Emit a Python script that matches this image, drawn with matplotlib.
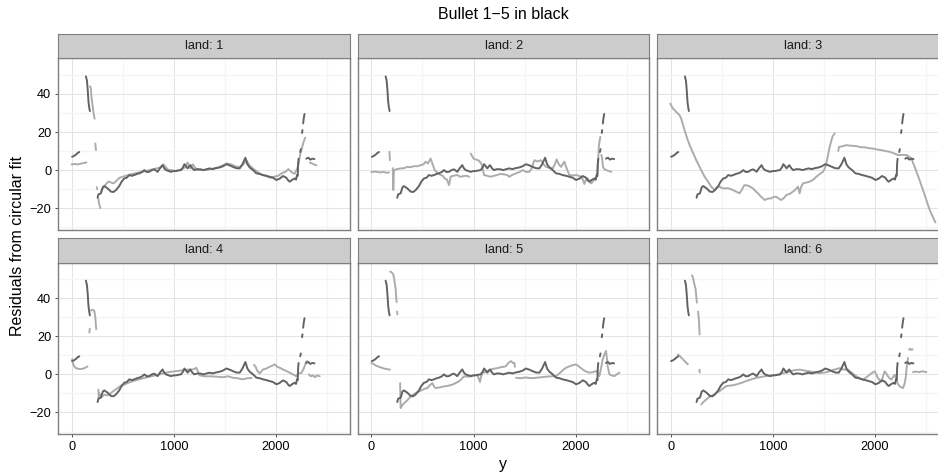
import numpy as np
import matplotlib
matplotlib.use('Agg')
from matplotlib import pyplot as plt

plt.rcParams['font.family'] = ['Liberation Sans', 'DejaVu Sans']

# bullet 1-5 (same in every facet), None = gap in the profile
bullet_pts = [(5, 7), (20, 7.3), (40, 8), (60, 9), (75, 9.5), None,
              (140, 49.2), (150, 47), (158, 42), (165, 36), (172, 33), (179, 31), None,
              (254, -14.5), (262, -12.8), (287, -12.2), (305, -9), (320, -8.4), (352, -9.6),
              (385, -11.3), (410, -11.5), (434, -10.5), (466, -8.4), (490, -6), (515, -4.4),
              (540, -4), (564, -2.6), (590, -3), (613, -2.6), (640, -2), (662, -1.7), (690, -1),
              (711, 0), (735, -1), (760, -0.9), (785, 0), (809, 0.4), (841, -0.9), (865, 1),
              (890, 2.6), (905, 1), (923, 0), (950, -0.5), (972, -0.9), (1000, -0.5),
              (1020, -0.5), (1045, -0.2), (1070, 0), (1090, 1.5), (1103, 3.1), (1120, 2),
              (1135, 0.9), (1150, 2), (1161, 2.6), (1180, 1), (1200, 0), (1230, 0.5),
              (1265, 0.4), (1290, 0), (1314, 0.4), (1350, 0.9), (1380, 0.5), (1410, 1),
              (1448, 1.4), (1480, 2), (1513, 3.1), (1545, 2.5), (1578, 1.7), (1610, 1),
              (1644, 0.9), (1670, 3), (1700, 6.5), (1720, 3), (1742, 1.4), (1775, 0),
              (1807, -1.7), (1840, -2), (1872, -2.6), (1905, -3), (1937, -3.5), (1970, -4),
              (2003, -5.2), (2035, -4.5), (2068, -3.1), (2100, -4), (2120, -5.5), (2133, -6.1),
              (2160, -5), (2182, -4.4), (2195, -5), (2205, -2.6), (2212, -3), (2215, 3),
              (2220, 6), None,
              (2236, 9.5), (2242, 11), None,
              (2254, 19.5), (2258, 21), None,
              (2265, 24.5), (2270, 27), (2278, 29.5), None,
              (2295, 6), (2315, 6.5), (2335, 5.5), (2355, 6), (2375, 5.8)]

land1_pts = [(0, 3), (30, 3.2), (60, 3), (100, 3.5), (145, 4), None,
             (180, 44), (188, 43), (195, 38), (205, 34), (215, 30), (225, 27), None,
             (232, 14), (238, 10.5), None,
             (246, -9), (250, -10), None,
             (262, -15), (270, -18), (282, -20), None,
             (290, -11), (310, -9), (335, -7.5), (360, -6), (385, -6.5), (410, -7), (440, -5.5),
             (470, -4), (500, -3.5), (530, -3), (560, -2.5), (600, -2), (640, -1.5), (680, -1),
             (720, -0.5), (760, 0), (800, 0.5), (840, 1), (870, 1.5), (900, 3), (920, 1.5),
             (950, 0), (980, 0), (1010, -0.5), (1050, 0), (1080, 0.5), (1110, 1.5), (1135, 4),
             (1160, 1), (1185, 3), (1210, 1), (1240, 0), (1280, 0), (1320, 0), (1360, 0.5),
             (1400, 1), (1440, 1.5), (1480, 2.5), (1520, 3.5), (1560, 3), (1600, 2), (1640, 1.5),
             (1680, 3), (1710, 5), (1740, 2.5), (1780, 0.5), (1820, -1), (1860, -2.5), (1900, -3),
             (1940, -4), (1980, -3.5), (2020, -3), (2060, -1.5), (2090, -1), (2120, 0.5),
             (2150, -1), (2180, -2), (2200, 0), (2215, 2), (2235, 8), (2255, 12), (2270, 15),
             (2285, 17), None,
             (2330, 4), (2350, 3.5), (2370, 3), (2395, 2.5)]

land2_pts = [(0, -1), (40, -0.8), (80, -1.2), (120, -1), (150, -1.4), (173, -1.2), None,
             (178, 9.6), (182, 5.2), None,
             (210, 1), (215, -10.5), (222, 0), (250, 0.5), (287, 0.9), (320, 1), (352, 1.7),
             (385, 1.5), (418, 2.1), (450, 2), (483, 2.6), (510, 3), (532, 4.4), (555, 3.5),
             (580, 6.1), (600, 3), (620, 0), (650, -1.5), (678, -2.6), (700, -3), (718, -4.4),
             (740, -5), (760, -7.9), (776, -3.5), (800, -3), (841, -2.6), (870, -3.5),
             (907, -3.1), (935, -3), (956, -3.5), None,
             (972, 8.7), (990, 7), (1005, 5.8), (1030, 5.5), (1054, 4.9), (1080, 3),
             (1103, -2.6), (1135, -3), (1168, -3.5), (1200, -3), (1233, -2.6), (1260, -2),
             (1290, -2.2), (1331, -2.6), (1350, -3.5), (1380, -2.5), (1416, -1.7), (1450, -1),
             (1480, 0), (1515, -1), (1546, -0.9), (1570, 1), (1595, 5.2), (1625, 4.5),
             (1660, 5.2), (1685, 3), (1709, 1.7), (1740, 1.2), (1774, 0.9), (1795, 3),
             (1813, 5.6), (1835, 3), (1856, 1.7), (1870, 3), (1888, 4.4), (1910, 1),
             (1937, -2.6), (1970, -2.8), (2003, -2.6), (2030, -3), (2052, -3.5), (2070, -5),
             (2084, -7.3), (2100, -5), (2117, -4.4), (2135, -6), (2150, -7), (2165, -6),
             (2182, -5.2), (2195, -4), (2205, -2.6), (2212, 0), (2219, 5.2), (2225, 12.2),
             (2232, 15), (2240, 17.4), None,
             (2250, 8), (2258, 6), (2266, 1.7), (2280, 0.5), (2299, 0), (2320, -0.5), (2348, -0.9)]

land3_pts = [(-3, 34.9), (10, 33.5), (23, 32.3), (40, 31.5), (55, 30.5), (75, 29.5), (88, 28.8),
             (104, 27), (120, 24), (137, 20.9), (160, 17), (186, 13.1), (220, 9), (251, 5.2),
             (290, 1), (333, -3.5), (365, -6), (398, -8.7), (431, -10.5), (455, -9), (479, -8.7),
             (505, -9.5), (528, -9.6), (560, -9.5), (594, -10.1), (630, -11), (675, -12.2),
             (700, -10), (720, -8), (740, -7.9), (770, -8.5), (805, -9.6), (830, -11),
             (854, -12.2), (885, -14), (920, -15.7), (950, -15), (985, -14.8), (1010, -14),
             (1034, -14), (1060, -15), (1083, -15.7), (1110, -14.5), (1132, -13.1),
             (1165, -12.5), (1197, -11.3), (1225, -10), (1246, -8.7), (1262, -12.2),
             (1275, -9), (1295, -7), (1330, -6.5), (1360, -6.1), (1395, -5), (1426, -3.5),
             (1460, -2), (1490, -0.9), (1510, 1), (1523, 3.5), (1540, 8), (1556, 12.2),
             (1570, 15), (1582, 17.4), (1595, 18.5), (1605, 19.2), None,
             (1640, 10), (1647, 12.2), (1680, 12.5), (1719, 13.1), (1760, 12.8), (1817, 12.6),
             (1860, 12), (1900, 12), (1940, 11.5), (1980, 11.3), (2020, 10.8), (2060, 10.5),
             (2100, 10), (2143, 9.6), (2185, 8.8), (2224, 7.9), (2265, 8), (2306, 7.9),
             (2330, 7.2), (2355, 6.1), (2370, 4), (2387, 1.7), (2430, -4.5), (2469, -10.5),
             (2500, -15.5), (2534, -20.9), (2560, -24), (2590, -27.5)]

land4_pts = [(5, 8), (10, 6.5), (20, 4.8), (35, 3.5), (60, 3), (85, 2.8), (110, 3), (135, 3.5),
             (155, 4.2), None,
             (174, 22), (178, 24), None,
             (190, 33.5), (205, 34), (222, 33.5), (232, 30), (236, 27), (241, 23.7), None,
             (262, -8), (266, -12.5), None,
             (272, -10), (290, -12), (320, -10.7), (350, -11), (385, -9.8), (415, -8.5),
             (450, -7.2), (480, -6), (515, -5.4), (550, -4.5), (600, -3.5), (646, -2.8),
             (700, -2), (740, -1.5), (776, -1), (820, -0.5), (860, 0), (907, 0.7), (950, 1.2),
             (1005, 1.6), (1060, 2), (1100, 2.2), (1135, 2.5), (1170, 2.5), (1200, 2.8),
             (1220, 3.5), (1235, 1.6), (1252, -0.5), (1300, -1), (1350, -1), (1416, -1.2),
             (1480, -1.5), (1530, -1), (1578, -1.8), (1620, -2), (1676, -2.6), (1720, -2),
             (1760, -1.9), None,
             (1785, 5), (1800, 4), (1815, 2), (1840, 0.5), (1872, 2.6), (1900, 3), (1937, 4),
             (1960, 4.5), (1986, 5.3), (2010, 4), (2035, 3.5), (2070, 2.5), (2100, 1.8),
             (2130, 1), (2165, 0), (2199, -1), (2215, 0.5), (2247, 0.7), (2270, 3), (2296, 6.8),
             (2305, 7), None,
             (2320, 0), (2340, -1), (2360, -0.5), (2380, -1.5), (2400, -0.5), (2427, -1)]

land5_pts = [(0, 6), (20, 5.5), (42, 4.7), (65, 4.2), (91, 3.7), (130, 3), (183, 2.5), None,
             (185, 54), (200, 53.5), (215, 52.5), (225, 50), (232, 47), (238, 45), (243, 41),
             (248, 38), None,
             (252, 33), (256, 31.5), None,
             (282, -4.6), (285, -12), (287, -17.7), (300, -16.5), (320, -15.1), (345, -14),
             (369, -12.5), (400, -11), (434, -9.8), (465, -9), (499, -8.1), (525, -7.5),
             (548, -7.2), (575, -5.5), (597, -4.6), (615, -6.5), (630, -7.2), (670, -6.8),
             (711, -6.3), (750, -6), (793, -5.4), (825, -4.5), (858, -3.7), (880, -2.5),
             (907, -1), (940, -1.2), (972, -1), (1005, -0.5), (1037, -0.2), (1050, -2),
             (1063, -4), (1075, -1), (1086, 0.7), (1130, 1.5), (1168, 2.5), (1200, 3),
             (1233, 3.3), (1270, 3.8), (1314, 4.2), (1340, 6), (1367, 7), (1385, 6), None,
             (1399, 6.1), (1405, 4), None,
             (1416, -1.8), (1460, -2), (1510, -1.6), (1560, -2), (1611, -1.8), (1660, -1.5),
             (1710, -1.2), (1760, -1), (1807, -0.9), (1850, 1), (1880, 2.5), (1905, 3.5),
             (1950, 4.5), (2003, 5.3), (2035, 4), (2068, 2.6), (2100, 1.5), (2133, 0.9),
             (2170, 1.2), (2199, 1.8), (2215, 0.5), (2231, -0.9), (2250, 4), (2263, 7.9),
             (2280, 10.5), (2296, 12.3), (2305, 8), (2312, 4.4), (2329, 0), (2350, -0.5),
             (2378, -0.9), (2400, 0), (2427, 0.9)]

land6_pts = [(71, 10.5), (88, 9.8), (104, 8.8), (120, 8), (137, 7), (155, 6), (169, 5.3), None,
             (210, 52), (218, 50.9), (230, 48), (245, 44.7), (257, 37.7), None,
             (268, 33), (277, 28.9), (284, 21), None,
             (282, 2.5), (286, 1), None,
             (300, -15.8), (320, -14.5), (349, -13.2), (375, -12), (398, -11.4), (440, -10),
             (479, -8.8), (510, -7.5), (545, -6.1), (600, -5.8), (643, -5.3), (690, -4.5),
             (740, -3.5), (790, -2.6), (839, -1.8), (890, -1.3), (936, -0.9), (1000, -0.5),
             (1067, 0), (1120, 1), (1164, 1.6), (1210, 2.2), (1262, 2.5), (1310, 2),
             (1360, 1.6), (1410, 1), (1458, 0.7), (1510, 1), (1556, 1.6), (1600, 2.5),
             (1654, 3.3), (1690, 2.5), (1735, 2.5), (1770, 1), (1817, -1), (1850, -2),
             (1882, -2.8), (1915, -1.5), (1947, -0.2), (1970, 0.8), (1996, 1.6), (2012, 0),
             (2028, -1.9), (2045, -3), (2061, -3.7), (2078, -1), (2094, 1.6), (2110, 0.5),
             (2126, -1), (2142, -2), (2159, -2.8), (2175, -1.5), (2192, -0.2), (2205, -2),
             (2222, -5), (2241, -6.3), (2257, -6.8), (2273, -7.2), (2288, -5), (2299, -1.9),
             (2306, 2), (2312, 5.1), (2322, 8.6), None,
             (2332, 13), (2345, 13.5), (2355, 12.8), (2367, 13.2), None,
             (2371, 1.2), (2400, 1.5), (2430, 1.2), (2460, 1.6), (2502, 1.2)]

land_names = ['land: 1', 'land: 2', 'land: 3', 'land: 4', 'land: 5', 'land: 6']
land_points = [land1_pts, land2_pts, land3_pts, land4_pts, land5_pts, land6_pts]

x_major = [0, 1000, 2000]
x_minor = [500, 1500, 2500]
y_major = [-20, 0, 20, 40]
y_minor = [-30, -10, 10, 30, 50]


def to_xy(points):
    arr = np.array([(np.nan, np.nan) if p is None else p for p in points], dtype=float)
    return arr[:, 0], arr[:, 1]


W, H = 938, 472
fig = plt.figure(figsize=(W / 100, H / 100), dpi=100)


def px_axes(left, top, width, height):
    return fig.add_axes([left / W, 1 - (top + height) / H, width / W, height / H])


panel_left = [58.3, 358.0, 657.3]
panel_top = [58.3, 262.6]
panel_w, panel_h = 291.4, 171.6
strip_h = 24.3

bx, by = to_xy(bullet_pts)

for i, (name, pts) in enumerate(zip(land_names, land_points)):
    row, col = divmod(i, 3)
    left, top = panel_left[col], panel_top[row]
    ax = px_axes(left, top, panel_w, panel_h)
    lx, ly = to_xy(pts)
    ax.plot(lx, ly, color='#acacac', lw=1.4, solid_capstyle='round', zorder=3)
    ax.plot(bx, by, color='#636363', lw=1.4, solid_capstyle='round', zorder=4)
    ax.set_xlim(-130, 2720)
    ax.set_ylim(-31.4, 58.7)
    ax.set_xticks(x_major)
    ax.set_xticks(x_minor, minor=True)
    ax.set_yticks(y_major)
    ax.set_yticks(y_minor, minor=True)
    ax.grid(which='major', color='#e3e3e3', lw=0.7, zorder=1)
    ax.grid(which='minor', color='#f5f5f5', lw=1.0, zorder=0)
    ax.set_axisbelow(True)
    ax.tick_params(which='minor', length=0)
    ax.tick_params(which='major', length=2.5, width=0.6, color='#333333',
                   labelsize=9.2, labelcolor='black', pad=2.5)
    if row == 0:
        ax.tick_params(axis='x', which='major', length=0, labelbottom=False)
    if col > 0:
        ax.tick_params(axis='y', which='major', length=0, labelleft=False)
    for sp in ax.spines.values():
        sp.set_color('#7f7f7f')
        sp.set_linewidth(1.0)

    strip = px_axes(left, top - strip_h, panel_w, strip_h)
    strip.set_facecolor('#cccccc')
    strip.set_xticks([])
    strip.set_yticks([])
    for sp in strip.spines.values():
        sp.set_color('#7f7f7f')
        sp.set_linewidth(0.8)
    strip.text(0.5, 0.5, name, transform=strip.transAxes, ha='center', va='center',
               fontsize=9.2, color='#1a1a1a')

fig.text(503 / W, 1 - 19 / H, 'Bullet 1\u22125 in black', ha='center', va='baseline', fontsize=11.5)
fig.text(503 / W, 1 - 469 / H, 'y', ha='center', va='baseline', fontsize=11.5)
fig.text(17.5 / W, 1 - 246 / H, 'Residuals from circular fit', ha='center', va='center',
         rotation=90, fontsize=11.5)

fig.savefig('out.png', dpi=100)
